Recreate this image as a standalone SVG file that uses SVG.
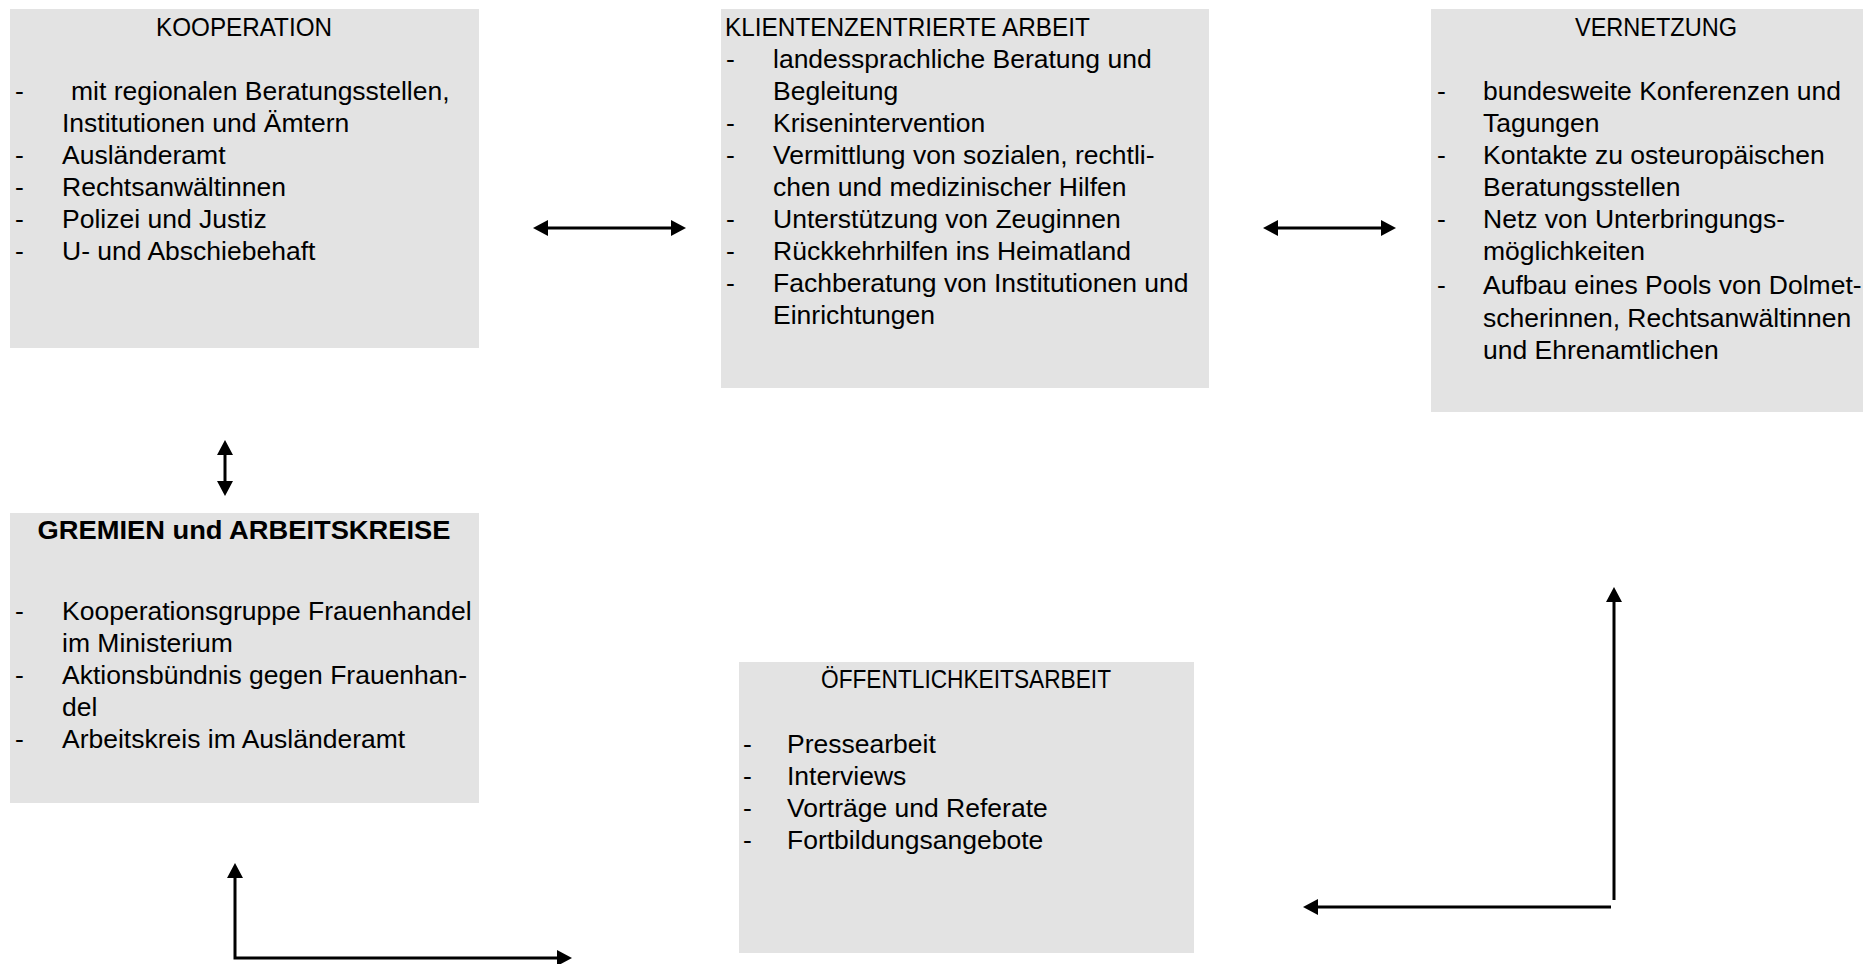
<svg xmlns="http://www.w3.org/2000/svg" width="1863" height="964" viewBox="0 0 1863 964">
<style>
.box{fill:#e3e3e3;stroke:none}
text{font-family:"Liberation Sans",Arial,sans-serif;font-size:26.5px;fill:#000}
.c{text-anchor:middle}
.b{font-weight:bold}
.ln{stroke:#000;stroke-width:3;fill:none}
</style>
<defs>
<marker id="ah" viewBox="0 0 15 16" refX="3" refY="8" markerWidth="15" markerHeight="16" markerUnits="userSpaceOnUse" orient="auto-start-reverse">
<path d="M0,0 L15,8 L0,16 z" fill="#000"/>
</marker>
</defs>
<rect width="1863" height="964" fill="#fff"/>

<g id="kooperation">
<rect class="box" x="10" y="9" width="469" height="339"/>
<text class="c" x="244" y="36" textLength="176" lengthAdjust="spacingAndGlyphs">KOOPERATION</text>
<text x="15" y="100">-</text><text x="71" y="100">mit regionalen Beratungsstellen,</text>
<text x="62" y="132">Institutionen und Ämtern</text>
<text x="15" y="164">-</text><text x="62" y="164">Ausländeramt</text>
<text x="15" y="196">-</text><text x="62" y="196">Rechtsanwältinnen</text>
<text x="15" y="228">-</text><text x="62" y="228">Polizei und Justiz</text>
<text x="15" y="260">-</text><text x="62" y="260">U- und Abschiebehaft</text>
</g>

<g id="klientenzentrierte">
<rect class="box" x="721" y="9" width="488" height="379"/>
<text x="725" y="36" textLength="365" lengthAdjust="spacingAndGlyphs">KLIENTENZENTRIERTE ARBEIT</text>
<text x="726" y="68">-</text><text x="773" y="68">landessprachliche Beratung und</text>
<text x="773" y="100">Begleitung</text>
<text x="726" y="132">-</text><text x="773" y="132">Krisenintervention</text>
<text x="726" y="164">-</text><text x="773" y="164">Vermittlung von sozialen, rechtli-</text>
<text x="773" y="196">chen und medizinischer Hilfen</text>
<text x="726" y="228">-</text><text x="773" y="228">Unterstützung von Zeuginnen</text>
<text x="726" y="260">-</text><text x="773" y="260">Rückkehrhilfen ins Heimatland</text>
<text x="726" y="292">-</text><text x="773" y="292">Fachberatung von Institutionen und</text>
<text x="773" y="324">Einrichtungen</text>
</g>

<g id="vernetzung">
<rect class="box" x="1431" y="9" width="432" height="403"/>
<text class="c" x="1656" y="36" textLength="162" lengthAdjust="spacingAndGlyphs">VERNETZUNG</text>
<text x="1437" y="100">-</text><text x="1483" y="100">bundesweite Konferenzen und</text>
<text x="1483" y="132">Tagungen</text>
<text x="1437" y="164">-</text><text x="1483" y="164">Kontakte zu osteuropäischen</text>
<text x="1483" y="196">Beratungsstellen</text>
<text x="1437" y="228">-</text><text x="1483" y="228">Netz von Unterbringungs-</text>
<text x="1483" y="260">möglichkeiten</text>
<text x="1437" y="294">-</text><text x="1483" y="294">Aufbau eines Pools von Dolmet-</text>
<text x="1483" y="327">scherinnen, Rechtsanwältinnen</text>
<text x="1483" y="359">und Ehrenamtlichen</text>
</g>

<g id="gremien">
<rect class="box" x="10" y="513" width="469" height="290"/>
<text class="c b" x="244" y="539" textLength="413" lengthAdjust="spacingAndGlyphs">GREMIEN und ARBEITSKREISE</text>
<text x="15" y="620">-</text><text x="62" y="620">Kooperationsgruppe Frauenhandel</text>
<text x="62" y="652">im Ministerium</text>
<text x="15" y="684">-</text><text x="62" y="684">Aktionsbündnis gegen Frauenhan-</text>
<text x="62" y="716">del</text>
<text x="15" y="748">-</text><text x="62" y="748">Arbeitskreis im Ausländeramt</text>
</g>

<g id="oeffentlichkeitsarbeit">
<rect class="box" x="739" y="662" width="455" height="291"/>
<text class="c" x="966" y="688" textLength="290" lengthAdjust="spacingAndGlyphs">ÖFFENTLICHKEITSARBEIT</text>
<text x="743" y="753">-</text><text x="787" y="753">Pressearbeit</text>
<text x="743" y="785">-</text><text x="787" y="785">Interviews</text>
<text x="743" y="817">-</text><text x="787" y="817">Vorträge und Referate</text>
<text x="743" y="849">-</text><text x="787" y="849">Fortbildungsangebote</text>
</g>

<g id="connectors">
<line class="ln" x1="545" y1="228" x2="674" y2="228" marker-start="url(#ah)" marker-end="url(#ah)"/>
<line class="ln" x1="1275" y1="228" x2="1384" y2="228" marker-start="url(#ah)" marker-end="url(#ah)"/>
<line class="ln" x1="225" y1="452" x2="225" y2="484" marker-start="url(#ah)" marker-end="url(#ah)"/>
<polyline class="ln" points="235,875 235,958 560,958" marker-start="url(#ah)" marker-end="url(#ah)"/>
<line class="ln" x1="1614" y1="900" x2="1614" y2="599" marker-end="url(#ah)"/>
<line class="ln" x1="1611" y1="907" x2="1315" y2="907" marker-end="url(#ah)"/>
</g>
</svg>
